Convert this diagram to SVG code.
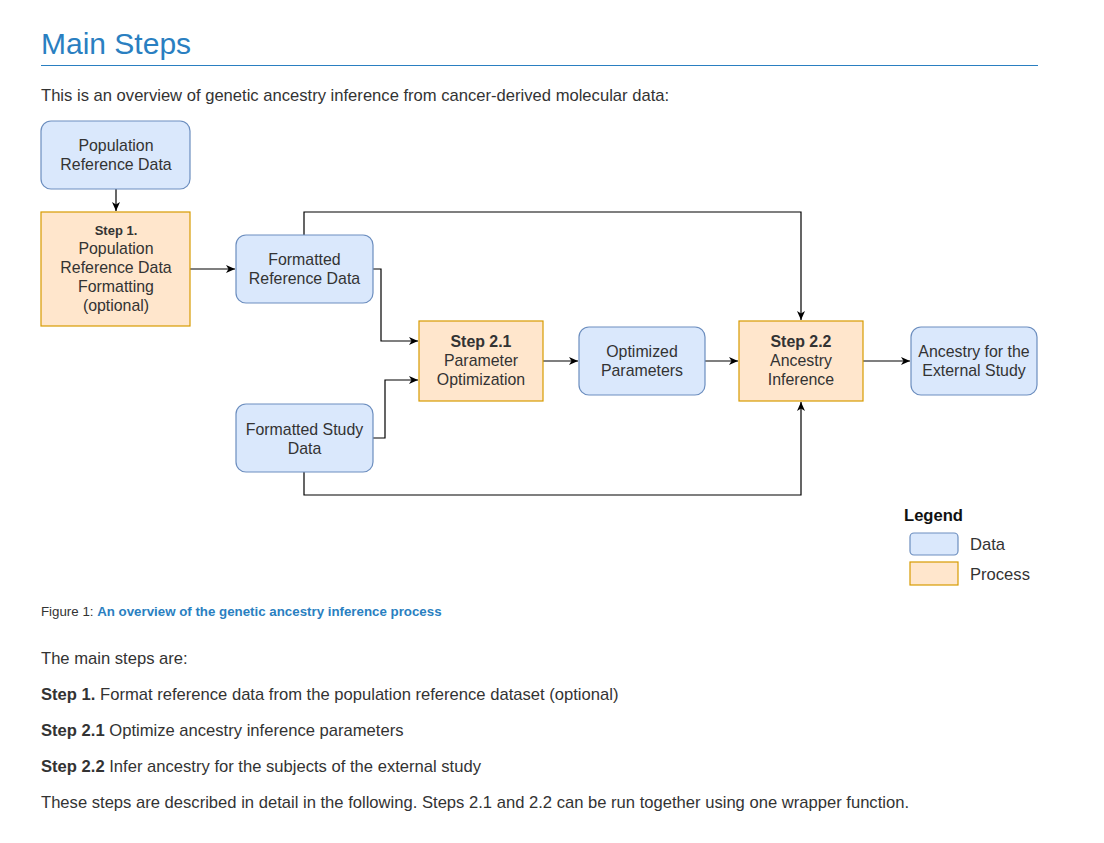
<svg xmlns="http://www.w3.org/2000/svg" width="1104" height="843" viewBox="0 0 1104 843">
<defs>
<style>
text{font-family:"Liberation Sans",Arial,sans-serif;}
.body{font-size:16.6px;fill:#333;}
.n{font-size:15.9px;fill:#333;text-anchor:middle;}
.b{font-weight:bold;}
.data{fill:#dae8fc;stroke:#6c8ebf;stroke-width:1.2;}
.proc{fill:#ffe6cc;stroke:#d79b00;stroke-width:1.2;}
.c{fill:none;stroke:#000;stroke-width:1.2;}
</style>
<marker id="ah" markerWidth="12" markerHeight="12" refX="10" refY="6" orient="auto" markerUnits="userSpaceOnUse">
<path d="M1,2 L10,6 L1,10 L3.5,6 Z" fill="#000"/>
</marker>
</defs>
<rect width="1104" height="843" fill="#fff"/>
<text x="41" y="54" style="font-size:30px;fill:#2a7fc1;">Main Steps</text>
<line x1="41" y1="65.5" x2="1038" y2="65.5" stroke="#2a7fc1" stroke-width="1"/>
<text x="41" y="101" class="body">This is an overview of genetic ancestry inference from cancer-derived molecular data:</text>

<g id="connectors">
<path class="c" d="M116,189 V211" marker-end="url(#ah)"/>
<path class="c" d="M190,269 H235" marker-end="url(#ah)"/>
<path class="c" d="M373,269 H381 V341 H418" marker-end="url(#ah)"/>
<path class="c" d="M373,438 H385 V380 H418" marker-end="url(#ah)"/>
<path class="c" d="M304,235 V212 H801 V320" marker-end="url(#ah)"/>
<path class="c" d="M304,472 V495 H801 V402" marker-end="url(#ah)"/>
<path class="c" d="M543,361 H578" marker-end="url(#ah)"/>
<path class="c" d="M705,361 H738" marker-end="url(#ah)"/>
<path class="c" d="M863,361 H910" marker-end="url(#ah)"/>
</g>

<g id="pop-ref">
<rect class="data" x="41" y="121" width="149" height="68" rx="10"/>
<text class="n" x="116" y="151">Population</text>
<text class="n" x="116" y="170">Reference Data</text>
</g>
<g id="step1">
<rect class="proc" x="41" y="212" width="149" height="114"/>
<text class="n b" x="116" y="235" style="font-size:13px;">Step 1.</text>
<text class="n" x="116" y="254">Population</text>
<text class="n" x="116" y="273">Reference Data</text>
<text class="n" x="116" y="292">Formatting</text>
<text class="n" x="116" y="311">(optional)</text>
</g>
<g id="formatted-ref">
<rect class="data" x="236" y="235" width="137" height="68" rx="10"/>
<text class="n" x="304.5" y="265">Formatted</text>
<text class="n" x="304.5" y="284">Reference Data</text>
</g>
<g id="formatted-study">
<rect class="data" x="236" y="404" width="137" height="68" rx="10"/>
<text class="n" x="304.5" y="435">Formatted Study</text>
<text class="n" x="304.5" y="454">Data</text>
</g>
<g id="step21">
<rect class="proc" x="419" y="321" width="124" height="80"/>
<text class="n b" x="481" y="347">Step 2.1</text>
<text class="n" x="481" y="366">Parameter</text>
<text class="n" x="481" y="385">Optimization</text>
</g>
<g id="optimized">
<rect class="data" x="579" y="327" width="126" height="68" rx="10"/>
<text class="n" x="642" y="357">Optimized</text>
<text class="n" x="642" y="376">Parameters</text>
</g>
<g id="step22">
<rect class="proc" x="739" y="321" width="124" height="80"/>
<text class="n b" x="801" y="347">Step 2.2</text>
<text class="n" x="801" y="366">Ancestry</text>
<text class="n" x="801" y="385">Inference</text>
</g>
<g id="ancestry">
<rect class="data" x="911" y="327" width="126" height="68" rx="10"/>
<text class="n" x="974" y="357">Ancestry for the</text>
<text class="n" x="974" y="376">External Study</text>
</g>

<g id="legend">
<text x="904" y="521" class="b" style="font-size:16.6px;fill:#111;">Legend</text>
<rect class="data" x="910" y="533" width="48" height="22" rx="4"/>
<text x="970" y="550" style="font-size:16.6px;fill:#333;">Data</text>
<rect class="proc" x="910" y="562" width="48" height="23"/>
<text x="970" y="580" style="font-size:16.6px;fill:#333;">Process</text>
</g>

<text x="41" y="616" style="font-size:13.3px;fill:#333;">Figure 1: <tspan class="b" fill="#2a7fc1">An overview of the genetic ancestry inference process</tspan></text>
<text x="41" y="664" class="body">The main steps are:</text>
<text x="41" y="700" class="body"><tspan class="b">Step 1.</tspan> Format reference data from the population reference dataset (optional)</text>
<text x="41" y="736" class="body"><tspan class="b">Step 2.1</tspan> Optimize ancestry inference parameters</text>
<text x="41" y="772" class="body"><tspan class="b">Step 2.2</tspan> Infer ancestry for the subjects of the external study</text>
<text x="41" y="808" class="body">These steps are described in detail in the following. Steps 2.1 and 2.2 can be run together using one wrapper function.</text>
</svg>
